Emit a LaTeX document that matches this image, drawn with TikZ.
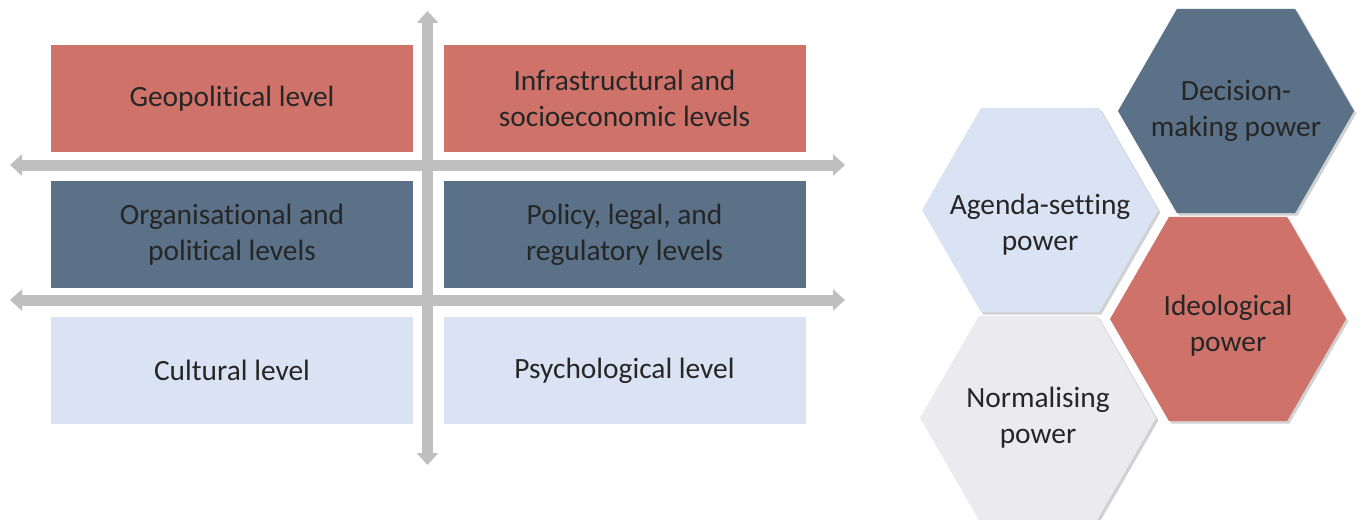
\documentclass[tikz,border=0pt]{standalone}
\usepackage{fontspec}
\setmainfont{Carlito}[Ligatures=CommonOff]
\usepackage{tikz}
\usetikzlibrary{shapes.geometric,arrows.meta,positioning,shadows}
\definecolor{redlevel}{RGB}{207,115,106}
\definecolor{bluelevel}{RGB}{90,113,135}
\definecolor{lightlevel}{RGB}{218,227,243}
\definecolor{greylevel}{RGB}{234,234,239}
\definecolor{axiscolor}{RGB}{191,191,191}
\definecolor{textcolor}{RGB}{38,38,38}

\begin{document}
\begin{tikzpicture}[x=0.5pt,y=-0.5pt,
  level/.style={rectangle, minimum width=181pt, minimum height=53.5pt, align=center, inner sep=0pt, text=textcolor, font=\fontsize{14.7}{18}\selectfont},
  redbox/.style={level, fill=redlevel},
  bluebox/.style={level, fill=bluelevel},
  lightbox/.style={level, fill=lightlevel},
  power/.style 2 args={regular polygon, regular polygon sides=6, minimum size=118pt, inner sep=0pt,
    drop shadow={shadow xshift=1.2pt, shadow yshift=-1.2pt, fill=black!40, opacity=.45},
    label={[align=center, text=textcolor, font=\fontsize{14.7}{18}\selectfont, yshift=#2]center:#1}},
  axis/.style={draw=axiscolor, line width=5.5pt, {Triangle[length=6pt,width=10.5pt]}-{Triangle[length=6pt,width=10.5pt]}}
]
\useasboundingbox (0,0) rectangle (1364,519);

% Level boxes
\node[redbox] (geo) at (232,98.5) {Geopolitical level};
\node[redbox] (infra) at (624.5,98.5) {Infrastructural and\\socioeconomic levels};
\node[bluebox] (org) at (232,234.5) {Organisational and\\political levels};
\node[bluebox] (policy) at (624.5,234.5) {Policy, legal, and\\regulatory levels};
\node[lightbox] (cult) at (232,370.5) {Cultural level};
\node[lightbox] (psych) at (624.5,370.5) {Psychological level};

% Axes
\coordinate (top) at (427.5,11);
\coordinate (bottom) at (427.5,465);
\coordinate (left1) at (10,165);
\coordinate (right1) at (845,165);
\coordinate (left2) at (10,300);
\coordinate (right2) at (845,300);
\draw[axis] (left1) -- (right1);
\draw[axis] (left2) -- (right2);
\draw[axis] (top) -- (bottom);

% Forms of power
\node[power={Normalising\\power}{0pt}, fill=greylevel] (norm) at (1038,418) {};
\node[power={Ideological\\power}{-3.5pt}, fill=redlevel] (ideo) at (1228,319) {};
\node[power={Agenda-setting\\power}{-7.5pt}, fill=lightlevel] (agenda) at (1040,210) {};
\node[power={Decision-\\making power}{0pt}, fill=bluelevel] (decision) at (1236,111) {};

\end{tikzpicture}
\end{document}
